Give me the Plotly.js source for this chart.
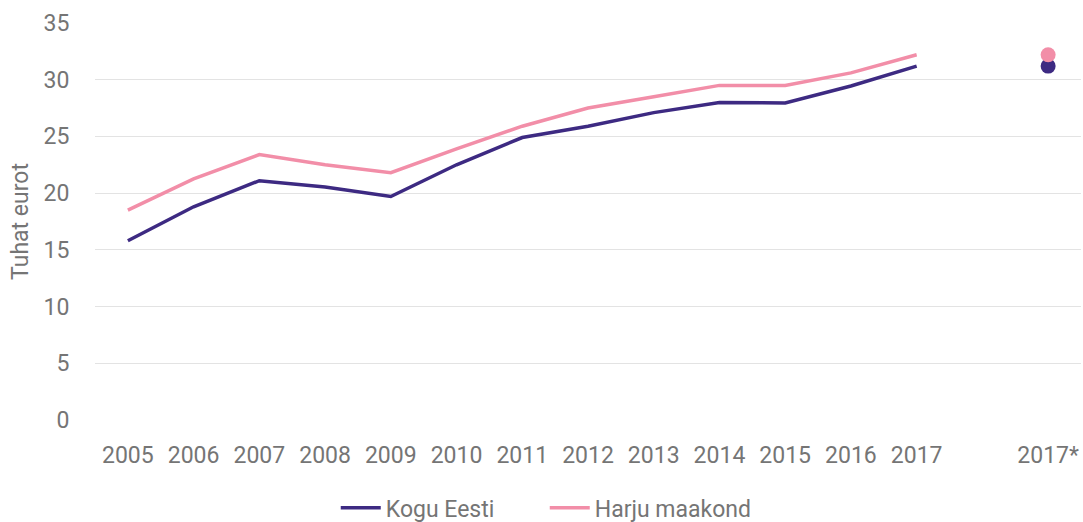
<!DOCTYPE html>
<html>
<head>
<meta charset="utf-8">
<script src="https://cdn.plot.ly/plotly-3.0.1.min.js"></script>
<style>html,body{margin:0;padding:0;background:#fff;}#chart{width:1083px;height:522px;}</style>
</head>
<body>
<div id="chart"></div>
<script>
const years = ["2005","2006","2007","2008","2009","2010","2011","2012","2013","2014","2015","2016","2017"];
const kogu = [15.8, 18.8, 21.1, 20.55, 19.7, 22.5, 24.9, 25.9, 27.1, 28.0, 27.95, 29.45, 31.2];
const harju = [18.5, 21.25, 23.4, 22.5, 21.8, 23.9, 25.9, 27.5, 28.5, 29.5, 29.5, 30.6, 32.2];
const extraLabel = "2017*";
const koguExtra = 31.2;
const harjuExtra = 32.2;
const seriesNames = ["Kogu Eesti", "Harju maakond"];
const colors = ["#3d2a82", "#f28ea8"];

const xs = years.map((_, i) => i);
const xExtra = years.length + 1;
const tickvals = xs.concat([xExtra]);
const ticktext = years.concat([extraLabel]);

const txt = {family: "Roboto, sans-serif", color: "#757575", size: 23};

const traces = [
  {x: xs, y: kogu, type: "scatter", mode: "lines", name: seriesNames[0],
   line: {color: colors[0], width: 3.5}, hoverinfo: "skip"},
  {x: xs, y: harju, type: "scatter", mode: "lines", name: seriesNames[1],
   line: {color: colors[1], width: 3.5}, hoverinfo: "skip"},
  {x: [xExtra], y: [koguExtra], type: "scatter", mode: "markers", showlegend: false,
   marker: {color: colors[0], size: 15}, hoverinfo: "skip"},
  {x: [xExtra], y: [harjuExtra], type: "scatter", mode: "markers", showlegend: false,
   marker: {color: colors[1], size: 15}, hoverinfo: "skip"}
];

const layout = {
  width: 1083, height: 522,
  margin: {l: 95, r: 2, t: 23, b: 102, autoexpand: false},
  paper_bgcolor: "#fff", plot_bgcolor: "#fff",
  font: txt,
  showlegend: true,
  legend: {orientation: "h", xref: "container", x: 0.503, xanchor: "center",
           yref: "container", y: 0.027, yanchor: "middle",
           font: txt, itemwidth: 40, entrywidth: 154, tracegroupgap: 0},
  xaxis: {
    range: [-0.5, xExtra + 0.5],
    tickmode: "array", tickvals: tickvals, ticktext: ticktext,
    showgrid: false, zeroline: false, showline: false,
    ticks: "outside", ticklen: 14, tickcolor: "rgba(0,0,0,0)",
    tickfont: txt
  },
  yaxis: {
    range: [0, 35], dtick: 5, tick0: 0,
    showgrid: true, gridcolor: "#e3e3e3", gridwidth: 1,
    zeroline: false, showline: false,
    ticks: "outside", ticklen: 20, tickcolor: "rgba(0,0,0,0)",
    tickfont: txt,
    title: {text: "Tuhat eurot", font: txt, standoff: 8}
  }
};

Plotly.newPlot("chart", traces, layout, {displayModeBar: false, staticPlot: true});
</script>
</body>
</html>
